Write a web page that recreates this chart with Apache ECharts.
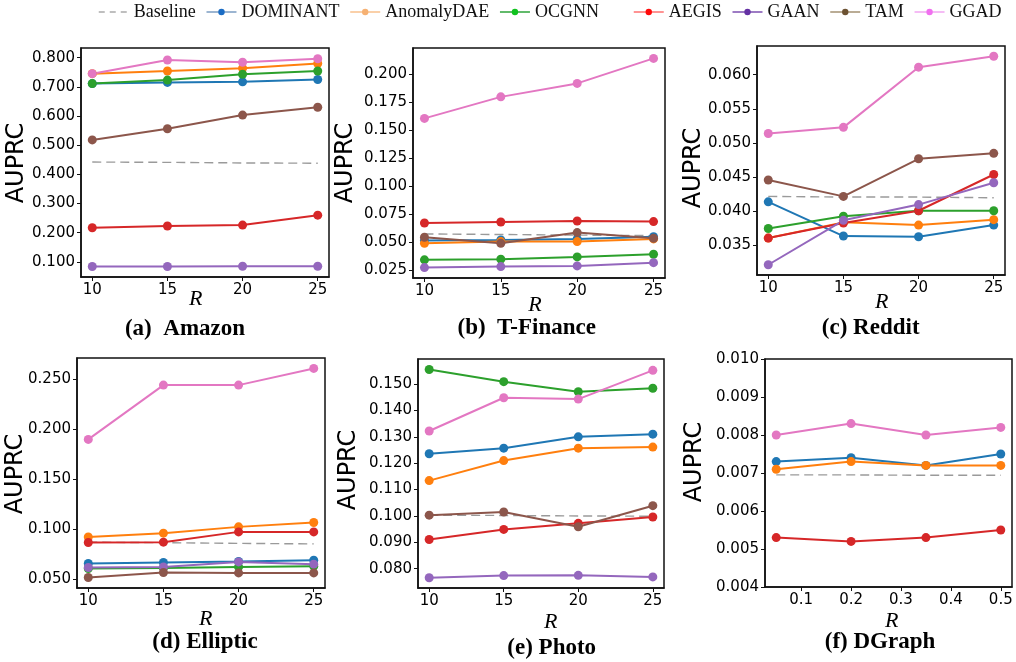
<!DOCTYPE html>
<html><head><meta charset="utf-8">
<script src="https://cdn.jsdelivr.net/npm/echarts@6/dist/echarts.min.js"></script>
<style>html,body{margin:0;padding:0;background:#fff}#c{width:1016px;height:662px}</style>
</head><body><div id="c"></div>
<script>
// ---------- DATA ----------
const R_VALUES = [10, 15, 20, 25];
const R_DGRAPH = [0.05, 0.2, 0.35, 0.5];
const R_TICKS = [10, 15, 20, 25];
const R_DGRAPH_TICKS = [0.1, 0.2, 0.3, 0.4, 0.5];

// (a) Amazon
const amazonBaseline   = [0.442, 0.441, 0.439, 0.438];
const amazonDOMINANT   = [0.711, 0.715, 0.717, 0.725];
const amazonAnomalyDAE = [0.745, 0.754, 0.764, 0.780];
const amazonOCGNN      = [0.711, 0.723, 0.743, 0.754];
const amazonAEGIS      = [0.217, 0.223, 0.226, 0.260];
const amazonGAAN       = [0.084, 0.084, 0.085, 0.085];
const amazonTAM        = [0.518, 0.556, 0.603, 0.630];
const amazonGGAD       = [0.745, 0.792, 0.784, 0.796];
const amazonTicks      = [0.1, 0.2, 0.3, 0.4, 0.5, 0.6, 0.7, 0.8];

// (b) T-Finance
const tfinBaseline   = [0.0577, 0.0572, 0.0567, 0.0562];
const tfinDOMINANT   = [0.0518, 0.0524, 0.0533, 0.0553];
const tfinAnomalyDAE = [0.0494, 0.0509, 0.0509, 0.0533];
const tfinOCGNN      = [0.0346, 0.0352, 0.0372, 0.0396];
const tfinAEGIS      = [0.0675, 0.0684, 0.0693, 0.0687];
const tfinGAAN       = [0.0277, 0.0286, 0.0292, 0.0321];
const tfinTAM        = [0.0548, 0.0494, 0.0589, 0.0539];
const tfinGGAD       = [0.1608, 0.1800, 0.1920, 0.2143];
const tfinTicks      = [0.025, 0.05, 0.075, 0.1, 0.125, 0.15, 0.175, 0.2];

// (c) Reddit
const redditBaseline   = [0.0422, 0.0421, 0.0421, 0.0420];
const redditDOMINANT   = [0.0414, 0.0364, 0.0363, 0.0380];
const redditAnomalyDAE = [0.0361, 0.0384, 0.0380, 0.0388];
const redditOCGNN      = [0.0375, 0.0393, 0.0401, 0.0401];
const redditAEGIS      = [0.0361, 0.0383, 0.0401, 0.0454];
const redditGAAN       = [0.0322, 0.0387, 0.0410, 0.0442];
const redditTAM        = [0.0446, 0.0422, 0.0477, 0.0485];
const redditGGAD       = [0.0514, 0.0523, 0.0611, 0.0627];
const redditTicks      = [0.035, 0.04, 0.045, 0.05, 0.055, 0.06];

// (d) Elliptic
const ellBaseline   = [0.0870, 0.0865, 0.0858, 0.0853];
const ellDOMINANT   = [0.0657, 0.0667, 0.0677, 0.0690];
const ellAnomalyDAE = [0.0923, 0.0960, 0.1023, 0.1067];
const ellOCGNN      = [0.0607, 0.0613, 0.0623, 0.0630];
const ellAEGIS      = [0.0867, 0.0870, 0.0973, 0.0973];
const ellGAAN       = [0.0617, 0.0623, 0.0673, 0.0650];
const ellTAM        = [0.0517, 0.0567, 0.0563, 0.0563];
const ellGGAD       = [0.1897, 0.2440, 0.2440, 0.2607];
const ellTicks      = [0.05, 0.1, 0.15, 0.2, 0.25];

// (e) Photo
const photoBaseline   = [0.1003, 0.1002, 0.1000, 0.0999];
const photoDOMINANT   = [0.1236, 0.1257, 0.1300, 0.1310];
const photoAnomalyDAE = [0.1134, 0.1210, 0.1257, 0.1261];
const photoOCGNN      = [0.1555, 0.1509, 0.1471, 0.1484];
const photoAEGIS      = [0.0911, 0.0949, 0.0972, 0.0996];
const photoGAAN       = [0.0766, 0.0774, 0.0775, 0.0769];
const photoTAM        = [0.1003, 0.1015, 0.0959, 0.1039];
const photoGGAD       = [0.1322, 0.1448, 0.1443, 0.1552];
const photoTicks      = [0.08, 0.09, 0.1, 0.11, 0.12, 0.13, 0.14, 0.15];

// (f) DGraph
const dgBaseline   = [0.00695, 0.00695, 0.00694, 0.00694];
const dgDOMINANT   = [0.0073, 0.0074, 0.0072, 0.0075];
const dgAnomalyDAE = [0.0071, 0.0073, 0.0072, 0.0072];
const dgAEGIS      = [0.0053, 0.0052, 0.0053, 0.0055];
const dgGGAD       = [0.0080, 0.0083, 0.0080, 0.0082];
const dgTicks      = [0.004, 0.005, 0.006, 0.007, 0.008, 0.009, 0.010];

// ---------- STYLE / LAYOUT ----------
const COLORS = {
  Baseline: '#9a9a9a', DOMINANT: '#1f77b4', AnomalyDAE: '#ff7f0e', OCGNN: '#2ca02c',
  AEGIS: '#d62728', GAAN: '#9467bd', TAM: '#8c564b', GGAD: '#e377c2'
};
const LEG = {
  DOMINANT: ['#7b9dc2', '#1a6cc4'], AnomalyDAE: ['#f8c08c', '#f6b173'],
  OCGNN: ['#2ea33a', '#10c21e'], AEGIS: ['#ff6f6f', '#ff0a0a'],
  GAAN: ['#7d4fb0', '#6431a3'], TAM: ['#a39172', '#6c5232'], GGAD: ['#f2a6f2', '#f070ef']
};

const panels = [
  { title: '(a)  Amazon', x: R_VALUES, xTicks: R_TICKS, xr: [9.25, 25.75], yr: [0.048, 0.833], yTicks: amazonTicks,
    grid: { left: 81, top: 48, width: 248, height: 229 }, ylab: [16.7, 163], rlab: [195.7, 299], tlab: [185, 329],
    s: { Baseline: amazonBaseline, DOMINANT: amazonDOMINANT, AnomalyDAE: amazonAnomalyDAE, OCGNN: amazonOCGNN,
         AEGIS: amazonAEGIS, GAAN: amazonGAAN, TAM: amazonTAM, GGAD: amazonGGAD } },
  { title: '(b)  T-Finance', x: R_VALUES, xTicks: R_TICKS, xr: [9.25, 25.75], yr: [0.0184, 0.2236], yTicks: tfinTicks,
    grid: { left: 413, top: 48, width: 252, height: 230 }, ylab: [346, 163], rlab: [535, 305.5], tlab: [526.7, 328.5],
    s: { Baseline: tfinBaseline, DOMINANT: tfinDOMINANT, AnomalyDAE: tfinAnomalyDAE, OCGNN: tfinOCGNN,
         AEGIS: tfinAEGIS, GAAN: tfinGAAN, TAM: tfinTAM, GGAD: tfinGGAD } },
  { title: '(c) Reddit', x: R_VALUES, xTicks: R_TICKS, xr: [9.25, 25.75], yr: [0.0307, 0.0642], yTicks: redditTicks,
    grid: { left: 757, top: 46, width: 248, height: 229 }, ylab: [694, 168], rlab: [881.7, 302.5], tlab: [870.7, 328.5],
    s: { Baseline: redditBaseline, DOMINANT: redditDOMINANT, AnomalyDAE: redditAnomalyDAE, OCGNN: redditOCGNN,
         AEGIS: redditAEGIS, GAAN: redditGAAN, TAM: redditTAM, GGAD: redditGGAD } },
  { title: '(d) Elliptic', x: R_VALUES, xTicks: R_TICKS, xr: [9.25, 25.75], yr: [0.0412, 0.2711], yTicks: ellTicks,
    grid: { left: 77, top: 358, width: 248, height: 230 }, ylab: [15.7, 474], rlab: [205.8, 619], tlab: [205, 641.7],
    s: { Baseline: ellBaseline, DOMINANT: ellDOMINANT, AnomalyDAE: ellAnomalyDAE, OCGNN: ellOCGNN,
         AEGIS: ellAEGIS, GAAN: ellGAAN, TAM: ellTAM, GGAD: ellGGAD } },
  { title: '(e) Photo', x: R_VALUES, xTicks: R_TICKS, xr: [9.25, 25.75], yr: [0.0727, 0.1595], yTicks: photoTicks,
    grid: { left: 418, top: 359, width: 246, height: 229 }, ylab: [348.3, 470], rlab: [550.8, 622.5], tlab: [551.7, 648.3],
    s: { Baseline: photoBaseline, DOMINANT: photoDOMINANT, AnomalyDAE: photoAnomalyDAE, OCGNN: photoOCGNN,
         AEGIS: photoAEGIS, GAAN: photoGAAN, TAM: photoTAM, GGAD: photoGGAD } },
  { title: '(f) DGraph', x: R_DGRAPH, xTicks: R_DGRAPH_TICKS, xr: [0.0275, 0.5225], yr: [0.004, 0.010], yTicks: dgTicks,
    grid: { left: 765, top: 359, width: 247, height: 228 }, ylab: [695, 462], rlab: [891.7, 620.8], tlab: [880, 641.7],
    xfmt: v => v.toFixed(1),
    s: { Baseline: dgBaseline, DOMINANT: dgDOMINANT, AnomalyDAE: dgAnomalyDAE, AEGIS: dgAEGIS, GGAD: dgGGAD } }
];

const ORDER = ['Baseline', 'DOMINANT', 'AnomalyDAE', 'OCGNN', 'AEGIS', 'GAAN', 'TAM', 'GGAD'];
const tickFont = { fontFamily: 'DejaVu Sans', fontSize: 15, color: '#000' };

const grids = [], xAxes = [], yAxes = [], series = [], graphics = [];
panels.forEach((p, i) => {
  grids.push(Object.assign({ show: true, borderColor: '#111', borderWidth: 1.5, backgroundColor: 'transparent' }, p.grid));
  xAxes.push({
    type: 'value', gridIndex: i, min: p.xr[0], max: p.xr[1],
    splitLine: { show: false },
    axisLine: { show: true, onZero: false, lineStyle: { color: '#111', width: 1.5 } },
    axisTick: { show: true, inside: false, length: 4, lineStyle: { color: '#111', width: 1 }, customValues: p.xTicks },
    axisLabel: Object.assign({ margin: 6, customValues: p.xTicks, formatter: p.xfmt || (v => String(v)) }, tickFont)
  });
  yAxes.push({
    type: 'value', gridIndex: i, min: p.yr[0], max: p.yr[1],
    splitLine: { show: false },
    axisLine: { show: true, onZero: false, lineStyle: { color: '#111', width: 1.5 } },
    axisTick: { show: true, inside: false, length: 4, lineStyle: { color: '#111', width: 1 }, customValues: p.yTicks },
    axisLabel: Object.assign({ margin: 6, customValues: p.yTicks, formatter: v => v.toFixed(3) }, tickFont)
  });
  ORDER.forEach(name => {
    const vals = p.s[name];
    if (!vals) return;
    const data = p.x.map((xv, k) => [xv, vals[k]]);
    if (name === 'Baseline') {
      series.push({ name, type: 'line', xAxisIndex: i, yAxisIndex: i, data, symbol: 'none',
        lineStyle: { color: COLORS.Baseline, width: 1.4, type: [9, 5] }, itemStyle: { color: COLORS.Baseline },
        silent: true, z: 2 });
    } else {
      series.push({ name, type: 'line', xAxisIndex: i, yAxisIndex: i, data, symbol: 'circle', symbolSize: 9,
        lineStyle: { color: COLORS[name], width: 2 }, itemStyle: { color: COLORS[name] }, z: 3 });
    }
  });
  graphics.push({ type: 'text', x: p.ylab[0], y: p.ylab[1], rotation: Math.PI / 2,
    style: { text: 'AUPRC', fontFamily: 'DejaVu Sans', fontSize: 24, fill: '#000', align: 'center', verticalAlign: 'middle' } });
  graphics.push({ type: 'text', x: p.rlab[0], y: p.rlab[1],
    style: { text: 'R', fontFamily: 'Liberation Serif', fontStyle: 'italic', fontSize: 22, fill: '#000', align: 'center', verticalAlign: 'middle' } });
  graphics.push({ type: 'text', x: p.tlab[0], y: p.tlab[1],
    style: { text: p.title, fontFamily: 'Liberation Serif', fontWeight: 'bold', fontSize: 23, fill: '#000', align: 'center', verticalAlign: 'middle' } });
});

function legItem(name) {
  if (name === 'Baseline') {
    return { name, lineStyle: { color: '#aaaaaa', width: 1.5, type: [6, 5] },
             itemStyle: { color: 'rgba(0,0,0,0)', borderWidth: 0, opacity: 0 } };
  }
  return { name, lineStyle: { color: LEG[name][0], width: 1.5 }, itemStyle: { color: LEG[name][1] } };
}
const legendText = { fontFamily: 'Liberation Serif', fontSize: 18, color: '#111' };

const option = {
  animation: false,
  backgroundColor: '#fff',
  grid: grids, xAxis: xAxes, yAxis: yAxes, series,
  legend: [
    { left: 98, top: 3, padding: 0, itemWidth: 30, itemHeight: 8, itemGap: 10, selectedMode: false,
      textStyle: legendText, data: ['Baseline', 'DOMINANT', 'AnomalyDAE', 'OCGNN'].map(legItem) },
    { left: 633, top: 3, padding: 0, itemWidth: 30, itemHeight: 8, itemGap: 10, selectedMode: false,
      textStyle: legendText, data: ['AEGIS', 'GAAN', 'TAM', 'GGAD'].map(legItem) }
  ],
  graphic: graphics
};
const chart = echarts.init(document.getElementById('c'), null, { renderer: 'canvas' });
chart.setOption(option);
</script></body></html>
